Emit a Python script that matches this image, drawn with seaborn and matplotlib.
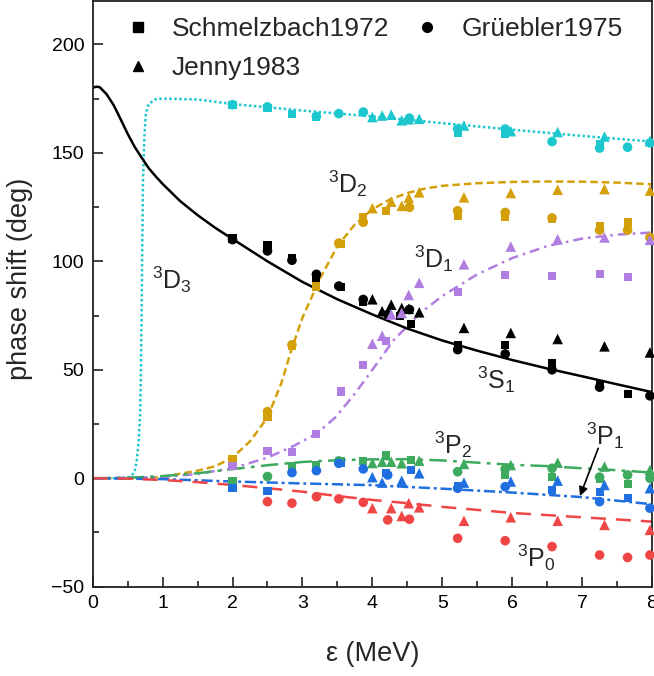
import numpy as np
import pandas as pd
import matplotlib
matplotlib.use('Agg')
import matplotlib.pyplot as plt
import seaborn as sns
from matplotlib.lines import Line2D

nan = np.nan

# ---- model curves ----
s1_e = [0, 0.05, 0.1, 0.2, 0.3, 0.4, 0.5, 0.6, 0.7, 0.8, 0.9, 1.0, 1.25, 1.5, 1.75, 2.0, 2.5,
        3.0, 3.5, 4.0, 4.5, 5.0, 5.5, 6.0, 6.5, 7.0, 7.5, 8.0]
s1_d = [180, 180.5, 180.3, 177, 172, 165.5, 158.8, 152.8, 147.8, 143.0, 139.2, 135.7, 127.8,
        121.3, 115.5, 110.3, 100.0, 90.5, 82.5, 75.5, 69.0, 63.5, 58.8, 54.5, 50.6, 47.0,
        43.3, 39.7]

d3_e = [0, 0.3, 0.5, 0.55, 0.6, 0.63, 0.66, 0.68, 0.69, 0.7, 0.71, 0.72, 0.74, 0.76, 0.8, 0.9,
        1.0, 1.5, 2.0, 3.0, 4.0, 5.0, 6.0, 7.0, 8.0]
d3_d = [0, 0, 0.3, 1, 3, 8, 18, 30, 50, 76, 110, 137, 158, 168, 172.5, 174.7, 175, 174.6, 172.5,
        169.5, 166.8, 163.7, 160.7, 157.8, 155.2]

d2_e = [0, 0.5, 1.0, 1.5, 1.75, 2.0, 2.25, 2.5, 2.7, 2.85, 3.0, 3.25, 3.5, 3.75, 4.0, 4.25, 4.5,
        4.75, 5.0, 5.5, 6.0, 6.5, 7.0, 7.5, 8.0]
d2_d = [0, 0, 0.6, 3.5, 5.5, 9.5, 17, 28, 44, 60, 74, 92, 107, 117, 124, 128.5, 131.5, 133.5,
        134.8, 136, 136.6, 136.8, 136.7, 136.3, 135.5]

d1_e = [0, 1.0, 1.5, 2.0, 2.5, 2.85, 3.2, 3.47, 3.75, 4.0, 4.3, 4.68, 5.0, 5.5, 6.0, 6.5, 7.0,
        7.5, 8.0]
d1_d = [0, 0.5, 2, 4.6, 9.5, 14.5, 20.5, 28, 39, 50, 63.5, 76, 84, 94, 101.5, 107, 110.5, 112.3,
        113.3]

p2_e = [0, 0.5, 1.0, 1.5, 2.0, 2.5, 3.0, 3.5, 4.0, 4.5, 5.0, 5.5, 6.0, 6.5, 7.0, 7.5, 8.0]
p2_d = [0, 0.2, 1, 2.3, 4.2, 6, 7.5, 8.3, 8.7, 8.8, 8.2, 7.2, 6.2, 5.6, 4.6, 3.7, 2.6]

p1_e = [0, 1.0, 2.0, 3.0, 4.0, 5.0, 6.0, 7.0, 8.0]
p1_d = [0, -0.4, -1.5, -2.4, -3.2, -4.8, -6.6, -8.7, -12]

p0_e = [0, 0.5, 1.0, 1.5, 2.0, 2.5, 3.0, 3.5, 4.0, 4.5, 5.0, 5.5, 6.0, 6.5, 7.0, 7.5, 8.0]
p0_d = [0, -0.2, -0.8, -1.8, -3.1, -4.6, -6.2, -8.2, -10, -11.5, -13.2, -14.6, -16, -17, -18,
        -19, -20]

# ---- experimental data ----
# Schmelzbach1972 (squares)
E_SCH = [2.0, 2.5, 2.85, 3.2, 3.55, 3.87, 4.2, 4.4, 4.55, 5.22, 5.9, 6.57, 7.25, 7.65]
sch_s1 = [110.5, 107.4, 101.5, 92.0, 88.0, 81.2, nan, 74.7, 71.3, 61.6, 61.6, 53.1, 43.0, 38.7]
sch_d3 = [172.0, 170.5, 168.0, 166.5, nan, nan, nan, nan, nan, 159.0, 158.8, nan, 154.0, nan]
sch_d2 = [8.8, 28.4, 61.0, 88.4, 108.0, 120.6, 123.3, nan, nan, 121.0, 120.5, 119.4, 116.3, 117.9]
sch_d1 = [5.5, 12.5, 12.0, 20.2, 40.0, 52.0, 63.1, nan, nan, 85.8, 93.5, 93.2, 94.0, 92.7]
sch_p2 = [-1.2, nan, 5.7, 6.1, 8.0, 8.1, 10.5, nan, 8.4, nan, 1.5, 0.7, -0.3, -2.6]
sch_p1 = [-4.6, -5.7, nan, nan, 6.9, nan, 2.3, nan, 3.8, -3.5, nan, -5.4, -6.2, -9.2]

# Grüebler1975 (circles)
E_GRU = [2.0, 2.5, 2.85, 3.2, 3.52, 3.87, 4.22, 4.53, 5.22, 5.9, 6.57, 7.25, 7.65, 7.97]
gru_s1 = [110.0, 104.8, 100.5, 94.0, 88.6, 82.4, 75.5, 77.8, 59.3, 57.3, 50.0, 42.0, nan, 38.0]
gru_d3 = [172.2, 171.2, nan, 166.8, 168.1, 168.8, nan, 166.0, 161.0, 161.0, 155.2, 152.2, 152.6, 154.6]
gru_d2 = [nan, 30.7, 61.5, nan, 108.4, 118.0, nan, 124.9, 123.3, 122.5, 120.0, 114.4, 114.4, 111.0]
gru_p2 = [nan, 0.8, nan, nan, 8.0, nan, nan, nan, 3.0, 4.2, 4.6, 0.5, 1.5, 0.0]
gru_p1 = [nan, nan, 2.6, 3.5, 6.9, 4.3, 1.5, nan, -4.6, -3.9, nan, -10.8, nan, -13.8]
gru_p0 = [nan, -10.8, -11.5, -8.5, -9.5, -11.1, -19.2, -18.9, -27.7, -28.8, -31.5, -35.4, -36.5, -35.4]

# Jenny1983 (triangles)
E_JEN = [4.0, 4.14, 4.27, 4.42, 4.52, 4.67, 5.31, 5.98, 6.65, 7.32, 7.97]
jen_s1 = [82.5, 77.0, 80.0, 78.5, 78.1, 76.5, 69.3, 67.0, 64.2, 60.8, 58.0]
jen_d3 = [166.5, 167.2, 167.6, 165.0, 165.5, 165.7, 162.6, 160.0, 159.6, 157.5, 155.5]
jen_d2 = [124.5, nan, 127.5, 125.6, 129.3, 131.8, 129.5, 131.5, 133.0, 133.3, 132.6]
jen_d1 = [62.0, 65.7, 75.5, 76.2, 84.5, 90.1, 98.6, 106.8, 110.2, 111.0, 109.9]
jen_p2 = [7.0, 7.6, 7.6, 6.9, nan, 8.1, 6.6, 6.1, 7.2, 5.4, 3.8]
jen_p1 = [0.5, -2.0, nan, -1.1, nan, 2.3, -2.0, -1.5, -1.1, -3.1, -4.6]
jen_p0 = [-13.8, nan, -13.8, -17.4, -11.5, -13.4, -19.6, -18.0, -19.6, -21.5, -23.8]

# ---- style ----
C_S1 = 'black'
C_D3 = '#1CC8CE'
C_D2 = '#D4A00A'
C_D1 = '#B07EE0'
C_P2 = '#3DAA5E'
C_P1 = '#1F6FE0'
C_P0 = '#F04545'

sns.set_style('ticks')
plt.rcParams['font.family'] = ['Liberation Sans', 'DejaVu Sans']
plt.rcParams['mathtext.fontset'] = 'custom'
plt.rcParams['mathtext.rm'] = 'Liberation Sans'
plt.rcParams['mathtext.it'] = 'Liberation Sans:italic'

fig = plt.figure(figsize=(6.54, 6.76), dpi=100)
ax = fig.add_axes([0.1417, 0.1321, 0.997 - 0.1417, 0.9985 - 0.1321])

# curves
curves = [
    (d3_e, d3_d, C_D3, (0, (1, 1))),
    (d2_e, d2_d, C_D2, (0, (3, 1.6))),
    (d1_e, d1_d, C_D1, (0, (4, 2, 1, 2))),
    (p2_e, p2_d, C_P2, (0, (7, 2.5, 1.5, 2.5))),
    (p1_e, p1_d, C_P1, (0, (4.5, 1.5, 1.2, 1.5))),
    (p0_e, p0_d, C_P0, (0, (6, 4))),
    (s1_e, s1_d, C_S1, '-'),
]
for e, d, c, ls in curves:
    sns.lineplot(x=e, y=d, color=c, linestyle=ls, linewidth=1.8, ax=ax, sort=False, zorder=2)

# data points
MS = {'s': 34, 'o': 48, '^': 58}
points = [
    (E_SCH, sch_s1, C_S1, 's'), (E_SCH, sch_d3, C_D3, 's'), (E_SCH, sch_d2, C_D2, 's'),
    (E_SCH, sch_d1, C_D1, 's'), (E_SCH, sch_p2, C_P2, 's'), (E_SCH, sch_p1, C_P1, 's'),
    (E_GRU, gru_s1, C_S1, 'o'), (E_GRU, gru_d3, C_D3, 'o'), (E_GRU, gru_d2, C_D2, 'o'),
    (E_GRU, gru_p2, C_P2, 'o'), (E_GRU, gru_p1, C_P1, 'o'), (E_GRU, gru_p0, C_P0, 'o'),
    (E_JEN, jen_s1, C_S1, '^'), (E_JEN, jen_d3, C_D3, '^'), (E_JEN, jen_d2, C_D2, '^'),
    (E_JEN, jen_d1, C_D1, '^'), (E_JEN, jen_p2, C_P2, '^'), (E_JEN, jen_p1, C_P1, '^'),
    (E_JEN, jen_p0, C_P0, '^'),
]
for e, d, c, m in points:
    df = pd.DataFrame({'E': e, 'delta': d}).dropna()
    sns.scatterplot(data=df, x='E', y='delta', color=c, marker=m, s=MS[m],
                    edgecolor='none', ax=ax, zorder=3, clip_on=False)

# labels for partial waves
lab_fs = 18
labels = [
    (0.85, 91.7, r'$\mathrm{^3D_3}$'),
    (3.37, 136.0, r'$\mathrm{^3D_2}$'),
    (4.60, 101.0, r'$\mathrm{^3D_1}$'),
    (5.50, 45.3, r'$\mathrm{^3S_1}$'),
    (4.88, 15.4, r'$\mathrm{^3P_2}$'),
    (7.06, 19.7, r'$\mathrm{^3P_1}$'),
    (6.07, -36.5, r'$\mathrm{^3P_0}$'),
]
for x, y, t in labels:
    ax.text(x, y, t, fontsize=lab_fs, ha='left', va='center', zorder=4)

ax.annotate('', xy=(6.97, -8.2), xytext=(7.23, 13.8),
            arrowprops=dict(arrowstyle='-|>', color='black', lw=1.2,
                            mutation_scale=13, shrinkA=0, shrinkB=0))

# axes
ax.set_xlim(0, 8)
ax.set_ylim(-50, 220)
ax.set_xticks(range(0, 9))
ax.set_yticks([-50, 0, 50, 100, 150, 200])
ax.set_xticks(np.arange(0.5, 8, 1), minor=True)
ax.set_yticks([-25, 25, 75, 125, 175], minor=True)
ax.tick_params(axis='both', which='major', direction='in', length=7, width=1.2,
               labelsize=14, colors='#222222', labelcolor='black', pad=6)
ax.tick_params(axis='both', which='minor', direction='in', length=4, width=1.2,
               colors='#222222')
ax.tick_params(top=False, right=False, which='both')
for sp in ax.spines.values():
    sp.set_visible(True)
    sp.set_linewidth(1.3)
    sp.set_color('#222222')

ax.set_xlabel('ε (MeV)', fontsize=19.5)
ax.set_ylabel('phase shift (deg)', fontsize=19.5)
ax.xaxis.set_label_coords(0.5, -0.092)
ax.yaxis.set_label_coords(-0.107, 0.525)

# legend
handles = [
    Line2D([], [], linestyle='none', marker='s', color='black', markersize=6.5),
    Line2D([], [], linestyle='none', marker='^', color='black', markersize=7.5),
    Line2D([], [], linestyle='none', marker='o', color='black', markersize=7),
]
names = ['Schmelzbach1972', 'Jenny1983', 'Grüebler1975']
ax.legend(handles, names, ncol=2, loc='upper left', bbox_to_anchor=(0.029, 0.995),
          frameon=False, fontsize=19, handlelength=1.2, handletextpad=0.68,
          columnspacing=0.85, labelspacing=0.58, borderaxespad=0.1)

fig.savefig('out.png', dpi=100)
